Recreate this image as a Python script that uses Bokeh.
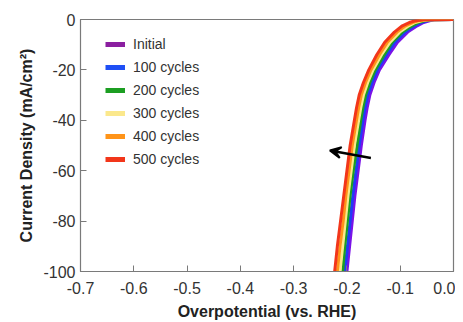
from bokeh.plotting import figure
from bokeh.models import Range1d, FixedTicker, CustomJSTickFormatter, Arrow, VeeHead, Legend, LegendItem
from bokeh.embed import file_html
from bokeh.resources import INLINE

# Shared current-density levels (mA/cm^2)
current = [0, -0.1, -0.5, -1.2, -2.5, -5, -9, -14, -20, -25, -30, -35, -40, -50, -60, -70, -80, -90, -100]

# Overpotential (V vs. RHE) for each series at the above current levels
initial = [0.0, -0.036, -0.045, -0.056, -0.068, -0.086, -0.105, -0.121, -0.139, -0.149, -0.157, -0.162, -0.166, -0.173, -0.179, -0.185, -0.190, -0.195, -0.200]
cyc100  = [0.0, -0.040, -0.050, -0.061, -0.073, -0.091, -0.110, -0.126, -0.143, -0.153, -0.161, -0.166, -0.170, -0.177, -0.183, -0.189, -0.194, -0.199, -0.204]
cyc200  = [0.0, -0.044, -0.055, -0.066, -0.078, -0.096, -0.115, -0.130, -0.147, -0.157, -0.165, -0.170, -0.174, -0.181, -0.188, -0.194, -0.199, -0.204, -0.208]
cyc300  = [0.0, -0.048, -0.060, -0.072, -0.084, -0.101, -0.119, -0.135, -0.151, -0.161, -0.169, -0.174, -0.178, -0.186, -0.192, -0.198, -0.203, -0.208, -0.213]
cyc400  = [0.0, -0.052, -0.066, -0.077, -0.090, -0.106, -0.124, -0.139, -0.155, -0.165, -0.173, -0.178, -0.182, -0.190, -0.196, -0.202, -0.207, -0.213, -0.218]
cyc500  = [0.0, -0.056, -0.072, -0.083, -0.096, -0.111, -0.129, -0.144, -0.159, -0.169, -0.177, -0.182, -0.186, -0.194, -0.200, -0.206, -0.212, -0.218, -0.223]

labels = ["Initial", "100 cycles", "200 cycles", "300 cycles", "400 cycles", "500 cycles"]
series = [initial, cyc100, cyc200, cyc300, cyc400, cyc500]
line_colors = ["#7A12E8", "#1F3CF5", "#1C9E22", "#FBE88C", "#FF9419", "#F2361A"]
legend_colors = ["#8B1FA0", "#1F4FF5", "#1C9E22", "#FBE88C", "#FF9419", "#F2361A"]

x_ticks = [-0.7, -0.6, -0.5, -0.4, -0.3, -0.2, -0.1, 0.0]
y_ticks = [0, -20, -40, -60, -80, -100]

# Arrow (trend indicator)
arrow_start = (-0.155, -55)
arrow_end = (-0.232, -52)

FONT = "Liberation Sans"

p = figure(width=455, height=322, output_backend="svg", toolbar_location=None,
           x_range=Range1d(-0.7, 0.0), y_range=Range1d(-100, 0),
           min_border_left=80, min_border_right=2, min_border_top=19, min_border_bottom=50)
p.grid.visible = False
p.outline_line_color = "#7a7a7a"
p.outline_line_width = 1.2

for xs, c in zip(series, line_colors):
    p.line(xs, current, line_color=c, line_width=3)

# legend swatches (hidden renderers, shown only in the legend)
leg_renderers = [p.line(xs, current, line_color=c, line_width=5, visible=False)
                 for xs, c in zip(series, legend_colors)]
items = [LegendItem(label=l, renderers=[r]) for l, r in zip(labels, leg_renderers)]
legend = Legend(items=items, location=(25, 104), border_line_alpha=0, background_fill_alpha=0,
                padding=0, margin=0, spacing=7, glyph_width=20, glyph_height=16, label_height=16,
                label_standoff=8, label_text_font=FONT, label_text_font_size="14px",
                label_text_color="#333333", inactive_fill_alpha=0)
p.add_layout(legend, "center")

p.add_layout(Arrow(end=VeeHead(size=11, line_color="black", fill_color="black", line_width=2),
                   x_start=arrow_start[0], y_start=arrow_start[1],
                   x_end=arrow_end[0], y_end=arrow_end[1], line_color="black", line_width=2.5))

for ax in (p.xaxis[0], p.yaxis[0]):
    ax.axis_line_color = "#7a7a7a"
    ax.major_tick_line_color = "#7a7a7a"
    ax.major_tick_in = 6
    ax.major_tick_out = 0
    ax.minor_tick_line_color = None
    ax.major_label_text_font = FONT
    ax.major_label_text_font_size = "16px"
    ax.major_label_text_color = "#333333"
    ax.axis_label_text_font = FONT
    ax.axis_label_text_font_size = "16px"
    ax.axis_label_text_font_style = "bold"
    ax.axis_label_text_color = "#222222"

p.xaxis.ticker = FixedTicker(ticks=x_ticks)
p.yaxis.ticker = FixedTicker(ticks=y_ticks)
p.xaxis.formatter = CustomJSTickFormatter(code="return tick.toFixed(1);")
p.yaxis.formatter = CustomJSTickFormatter(code="return tick.toFixed(0);")
p.xaxis.axis_label = "Overpotential (vs. RHE)"
p.yaxis.axis_label = "Current Density (mA/cm\u00b2)"
p.xaxis.major_label_standoff = 10
p.yaxis.major_label_standoff = 5
p.xaxis.axis_label_standoff = 6
p.yaxis.axis_label_standoff = 5

open("out.html", "w").write(file_html(p, INLINE))
